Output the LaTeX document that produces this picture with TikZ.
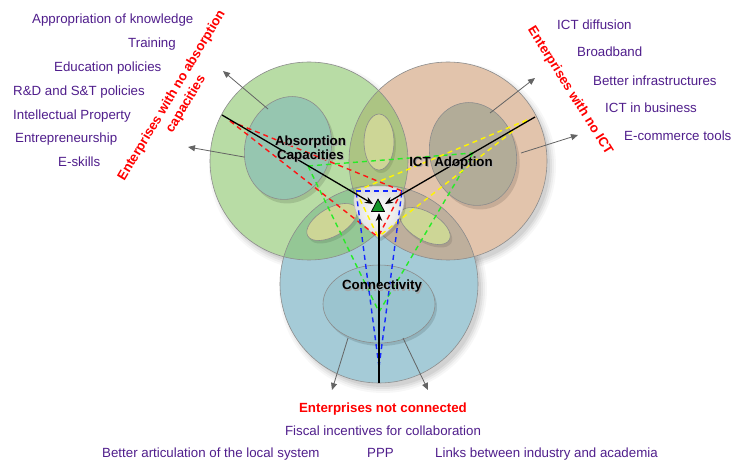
\documentclass[tikz,border=0pt]{standalone}
\usepackage{fontspec}
\setmainfont{Liberation Sans}
\usetikzlibrary{arrows.meta}
\definecolor{purp}{RGB}{80,30,140}
\definecolor{ringblue}{RGB}{165,203,215}
\definecolor{ringpeach}{RGB}{207,157,117}
\definecolor{ringgreen}{RGB}{137,197,105}
\definecolor{inngreen}{RGB}{150,198,176}
\definecolor{innpeach}{RGB}{178,172,152}
\definecolor{innblue}{RGB}{155,196,207}
\definecolor{petal}{RGB}{205,214,150}
\definecolor{dred}{RGB}{255,20,20}
\definecolor{dyel}{RGB}{255,245,0}
\definecolor{dblue}{RGB}{20,40,255}
\definecolor{dgreen}{RGB}{40,235,40}
\definecolor{tgreen}{RGB}{20,150,40}
\definecolor{arrgray}{RGB}{100,100,100}
\definecolor{edgegray}{RGB}{140,140,140}
\begin{document}
\begin{tikzpicture}[x=1pt,y=-1pt,
  ring/.style={draw=edgegray, line width=0.6pt},
  innerell/.style={draw=edgegray, line width=0.6pt},
  dsh/.style={dash pattern=on 5pt off 4pt, line width=1.4pt},
  blk/.style={-{Stealth[length=8pt,width=6.5pt]}, line width=1.3pt, black},
  gar/.style={-{Triangle[length=7pt,width=6pt]}, line width=0.8pt, arrgray},
  item/.style={text=purp, font=\fontsize{13.3}{15}\selectfont, inner sep=0pt, anchor=base west},
  lbl/.style={font=\bfseries\fontsize{13.3}{14.5}\selectfont, inner sep=0pt, align=center, anchor=base},
  redl/.style={text=red, font=\bfseries\fontsize{13.3}{16.5}\selectfont, inner sep=0pt, align=center},
]
\useasboundingbox (0,0) rectangle (744,462);
\fill[white] (0,0) rectangle (744,462);

% soft shadows of the three circles
\foreach \cx/\cy in {379/284, 448/161, 309/161} {
  \foreach \r/\o in {104/0.03, 102/0.04, 100/0.05, 98/0.06} {
    \fill[black, opacity=\o] (\cx+4,\cy+5) circle[radius=\r];
  }
}
\fill[white] (379,284) circle[radius=99];
\fill[white] (448,161) circle[radius=99];
\fill[white] (309,161) circle[radius=99];

% outer circles
\fill[ringblue] (379,284) circle[radius=99];
\fill[ringpeach, fill opacity=0.6] (448,161) circle[radius=99];
\fill[ringgreen, fill opacity=0.6] (309,161) circle[radius=99];
\draw[ring] (379,284) circle[radius=99];
\draw[ring] (448,161) circle[radius=99];
\draw[ring] (309,161) circle[radius=99];

% inner ellipses shadows
\fill[black, opacity=0.12, shift={(291,152)}, rotate=-15] (0,0) ellipse[x radius=43, y radius=52];
\fill[black, opacity=0.12, shift={(476,158)}, rotate=15] (0,0) ellipse[x radius=43, y radius=52];
\fill[black, opacity=0.12] (381,307) ellipse[x radius=56, y radius=39];
% inner ellipses
\draw[innerell, fill=inngreen, shift={(288,148)}, rotate=-15] (0,0) ellipse[x radius=43, y radius=52];
\draw[innerell, fill=innpeach, shift={(473,154)}, rotate=15] (0,0) ellipse[x radius=43, y radius=52];
\draw[innerell, fill=innblue] (379,304) ellipse[x radius=56, y radius=39];

% petals
\fill[black, opacity=0.10] (381,145) ellipse[x radius=15, y radius=28];
\fill[black, opacity=0.10, shift={(334,225)}, rotate=30] (0,0) ellipse[x radius=28, y radius=14];
\fill[black, opacity=0.10, shift={(427,229)}, rotate=-30] (0,0) ellipse[x radius=28, y radius=14];
\draw[innerell, fill=petal] (379,142) ellipse[x radius=15, y radius=28];
\draw[innerell, fill=petal, shift={(332,222)}, rotate=30] (0,0) ellipse[x radius=28, y radius=14];
\draw[innerell, fill=petal, shift={(425,226)}, rotate=-30] (0,0) ellipse[x radius=28, y radius=14];

% gray arrows
\coordinate (g1s) at (268,109); \coordinate (g1e) at (223,71);
\coordinate (g2s) at (244,157); \coordinate (g2e) at (188,147);
\coordinate (g3s) at (490,113); \coordinate (g3e) at (535,78);
\coordinate (g4s) at (521,153); \coordinate (g4e) at (578,135);
\coordinate (g5s) at (348,338); \coordinate (g5e) at (332,390);
\coordinate (g6s) at (403,338); \coordinate (g6e) at (428,390);
\draw[gar] (g1s) -- (g1e);
\draw[gar] (g2s) -- (g2e);
\draw[gar] (g3s) -- (g3e);
\draw[gar] (g4s) -- (g4e);
\draw[gar] (g5s) -- (g5e);
\draw[gar] (g6s) -- (g6e);

% center shape
\fill[black, opacity=0.12] (359,192) .. controls (370,188) and (392,188) .. (403,192) .. controls (410,203) and (406,225) .. (381,241) .. controls (356,225) and (352,203) .. (359,192) -- cycle;
\draw[draw=black!25, line width=0.5pt, inner color=white, outer color=black!14]
  (357,189) .. controls (368,185) and (390,185) .. (401,189) .. controls (408,200) and (404,222) .. (379,238) .. controls (354,222) and (350,200) .. (357,189) -- cycle;

% dashed construction
\coordinate (TL) at (356,191);
\coordinate (TR) at (402,191);
\coordinate (BC) at (378,237);
\coordinate (Lr) at (230,121);
\coordinate (Ry) at (527,120);
\coordinate (Bb) at (379,367);
\coordinate (GL) at (308,166);
\coordinate (GR) at (473,153);
\coordinate (GB) at (379,312);
\draw[dsh, dgreen] (GL) -- (GR);
\draw[dsh, dgreen] (GL) -- (GB);
\draw[dsh, dgreen] (GR) -- (GB);
\draw[dsh, dred] (Lr) -- (TR);
\draw[dsh, dred] (Lr) -- (BC);
\draw[dsh, dred] (TR) -- (BC);
\draw[dsh, dyel] (Ry) -- (TL);
\draw[dsh, dyel] (Ry) -- (BC);
\draw[dsh, dyel] (TL) -- (BC);
\draw[dsh, dblue] (Bb) -- (TL);
\draw[dsh, dblue] (Bb) -- (TR);
\draw[dsh, dblue] (TL) -- (TR);

% black arrows
\coordinate (L) at (222,115);
\coordinate (R) at (535,117);
\coordinate (Bo) at (379,383);
\coordinate (tipL) at (373,204);
\coordinate (tipR) at (385,204);
\coordinate (tipB) at (379,213);
\draw[blk] (L) -- (tipL);
\draw[blk] (R) -- (tipR);
\draw[blk] (Bo) -- (tipB);

% green triangle
\coordinate (t1) at (371.5,211.5);
\coordinate (t2) at (384.5,211.5);
\coordinate (t3) at (378,199);
\draw[fill=tgreen, line width=0.8pt, line join=round] (t1) -- (t2) -- (t3) -- cycle;

% main labels (with faint shadow)
\node[lbl, text=black!35] (absS) at (311.5,161) {Absorption\\Capacities};
\node[lbl] (abs) at (310.5,160) {Absorption\\Capacities};
\node[lbl, text=black!35] (ictS) at (452,168) {ICT Adoption};
\node[lbl] (ict) at (451,167) {ICT Adoption};
\node[lbl, text=black!35] (conS) at (383,291) {Connectivity};
\node[lbl] (con) at (382,290) {Connectivity};

% red labels
\node[redl, rotate=59] (noabs) at (179,100) {Enterprises with no absorption\\capacities};
\node[redl, rotate=-58] (noict) at (570,91) {Enterprises with no ICT};
\node[redl, anchor=base] (nocon) at (383,412) {Enterprises not connected};

% left list
\node[item] (l1) at (32,24) {Appropriation of knowledge};
\node[item] (l2) at (128,48) {Training};
\node[item] (l3) at (54,72) {Education policies};
\node[item] (l4) at (13,96) {R\&D and S\&T policies};
\node[item] (l5) at (13,120) {Intellectual Property};
\node[item] (l6) at (15,143) {Entrepreneurship};
\node[item] (l7) at (58,167) {E-skills};

% right list
\node[item] (r1) at (557,30) {ICT diffusion};
\node[item] (r2) at (577,57) {Broadband};
\node[item] (r3) at (593,86) {Better infrastructures};
\node[item] (r4) at (605,113) {ICT in business};
\node[item] (r5) at (624,141) {E-commerce tools};

% bottom list
\node[item, anchor=base] (b1) at (383,435) {Fiscal incentives for collaboration};
\node[item] (b2) at (102,457) {Better articulation of the local system};
\node[item] (b3) at (367,457) {PPP};
\node[item] (b4) at (435,457) {Links between industry and academia};
\end{tikzpicture}
\end{document}
